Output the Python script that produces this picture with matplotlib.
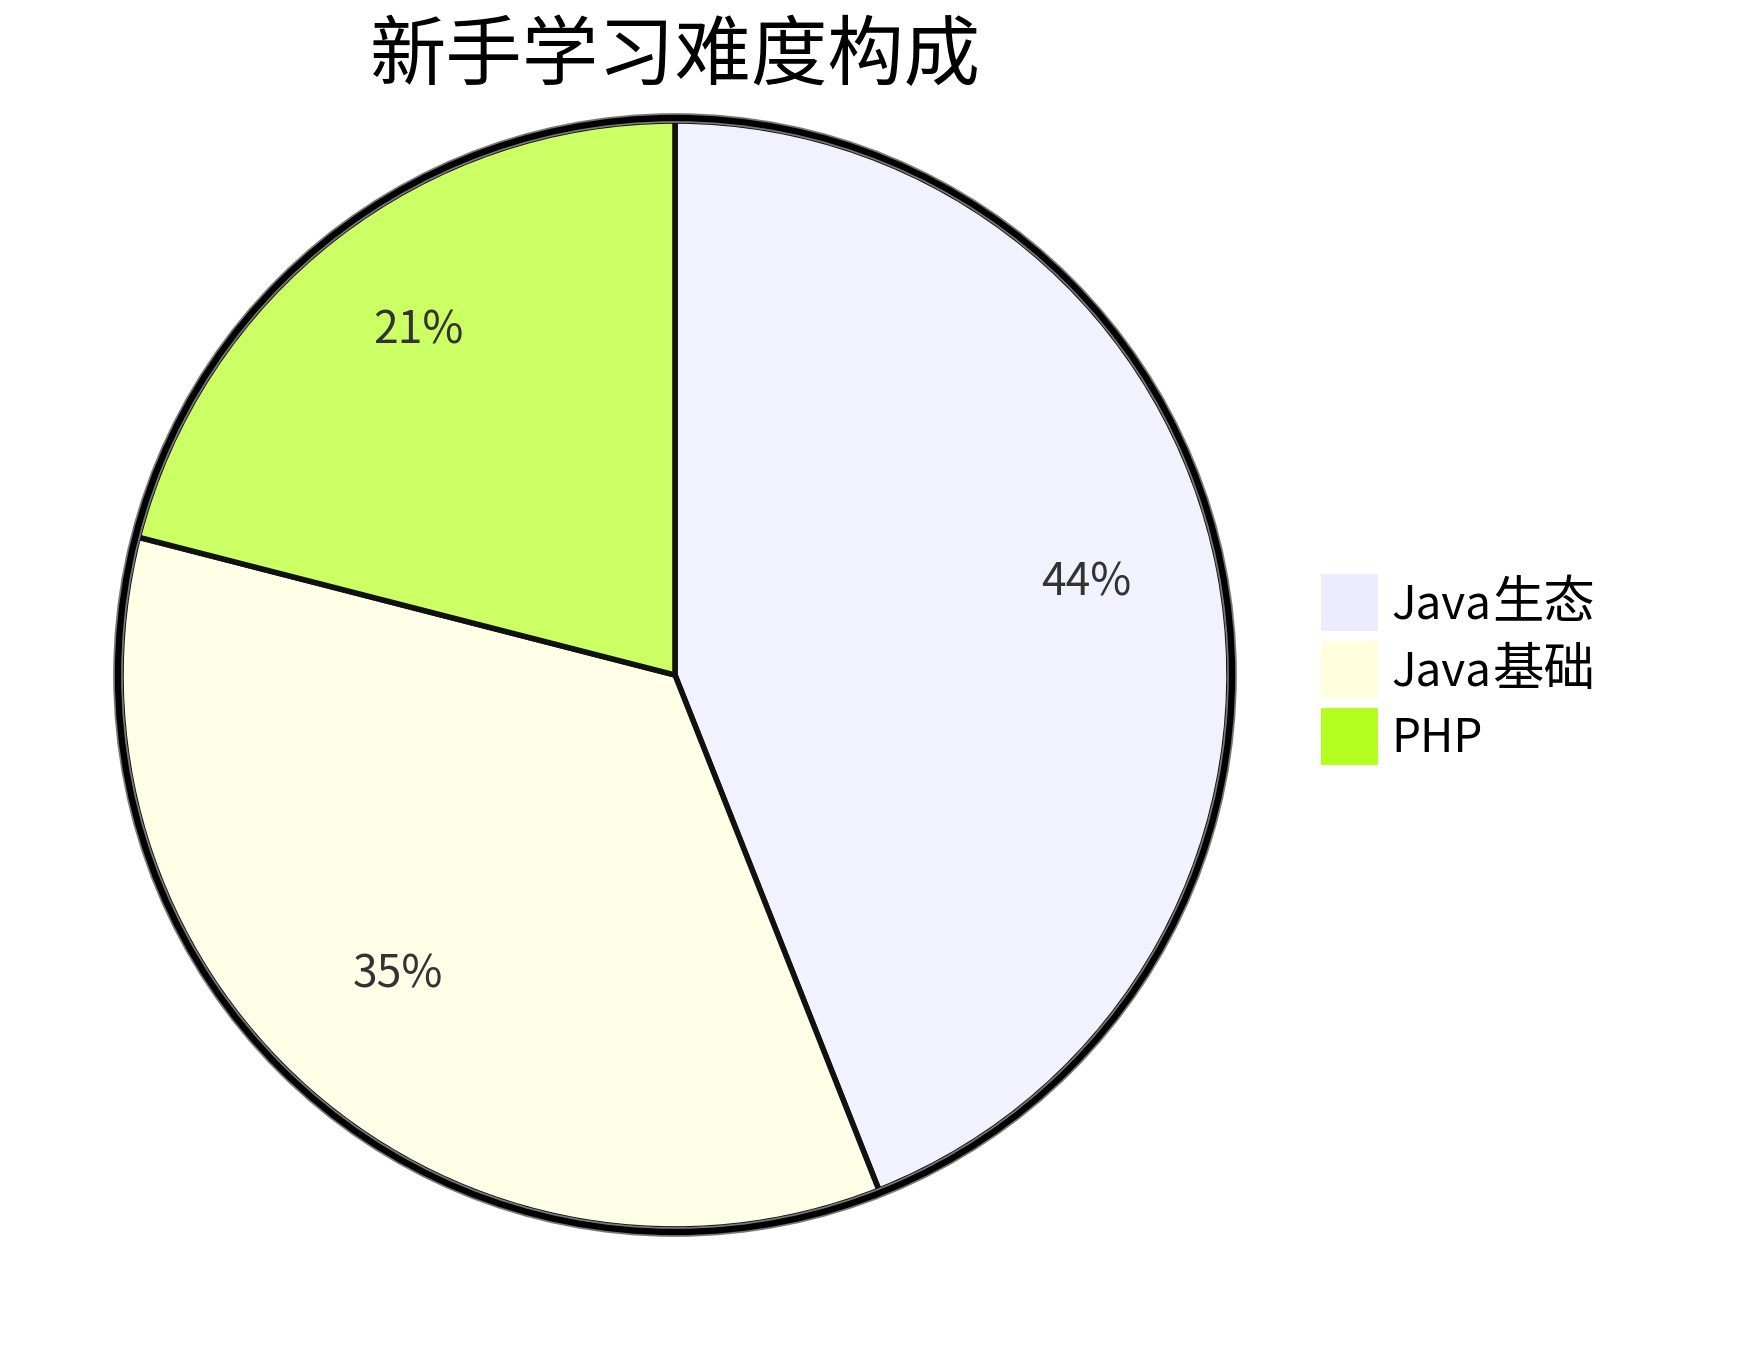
import matplotlib
matplotlib.use("Agg")
import matplotlib.pyplot as plt
from matplotlib.patches import Circle, Rectangle

plt.rcParams['font.family'] = ['Noto Sans CJK SC', 'DejaVu Sans']

# data
title = "新手学习难度构成"
labels = ["Java生态", "Java基础", "PHP"]
values = [44, 35, 21]

# legend colours and slice colours (legend colours at 70% opacity on white)
legend_colors = ["#ECECFF", "#FFFFDE", "#B5FF20"]
slice_colors = ["#F2F2FF", "#FFFFE8", "#CBFF63"]

W, H = 1740, 1350
fig = plt.figure(figsize=(W / 100, H / 100), dpi=100)
ax = fig.add_axes([0, 0, 1, 1])

cx, cy = 675, H - 675
r = 554

wedges, texts, autotexts = ax.pie(
    values, colors=slice_colors, startangle=90, counterclock=False,
    center=(cx, cy), radius=r, autopct='%1.0f%%', pctdistance=0.755,
    wedgeprops=dict(edgecolor='#111111', linewidth=4),
    textprops=dict(fontsize=32, color='#333333'))
ax.set_xlim(0, W)
ax.set_ylim(0, H)
ax.set_aspect('equal')
ax.axis('off')

# nudge labels so the glyphs sit centred like the original
for t in autotexts:
    x, y = t.get_position()
    t.set_position((x, y + 14))

# outer ring
ax.add_patch(Circle((cx, cy), r + 3, fill=False, edgecolor='#777777', linewidth=7, zorder=5))
ax.add_patch(Circle((cx, cy), r + 3, fill=False, edgecolor='black', linewidth=4.5, zorder=6))

ax.text(cx, H - 57, title, ha='center', va='center', fontsize=55, color='black')

# legend
box = 57
gap = 67
top = 574
renderer = fig.canvas.get_renderer()
for i, (lab, col) in enumerate(zip(labels, legend_colors)):
    y0 = top + i * gap
    ax.add_patch(Rectangle((1321, H - y0 - box), box, box, facecolor=col, edgecolor='none'))
    latin = lab.rstrip("生态基础")
    cjk = lab[len(latin):]
    ty = H - y0 - box / 2
    t1 = ax.text(1391, ty - 16, latin, ha='left', va='baseline', fontsize=33, color='black')
    if cjk:
        bb = t1.get_window_extent(renderer)
        x_end = ax.transData.inverted().transform((bb.x1, bb.y0))[0]
        ax.text(x_end + 1, ty - 16, cjk, ha='left', va='baseline', fontsize=37, color='black')

fig.savefig("out.png", dpi=100)
